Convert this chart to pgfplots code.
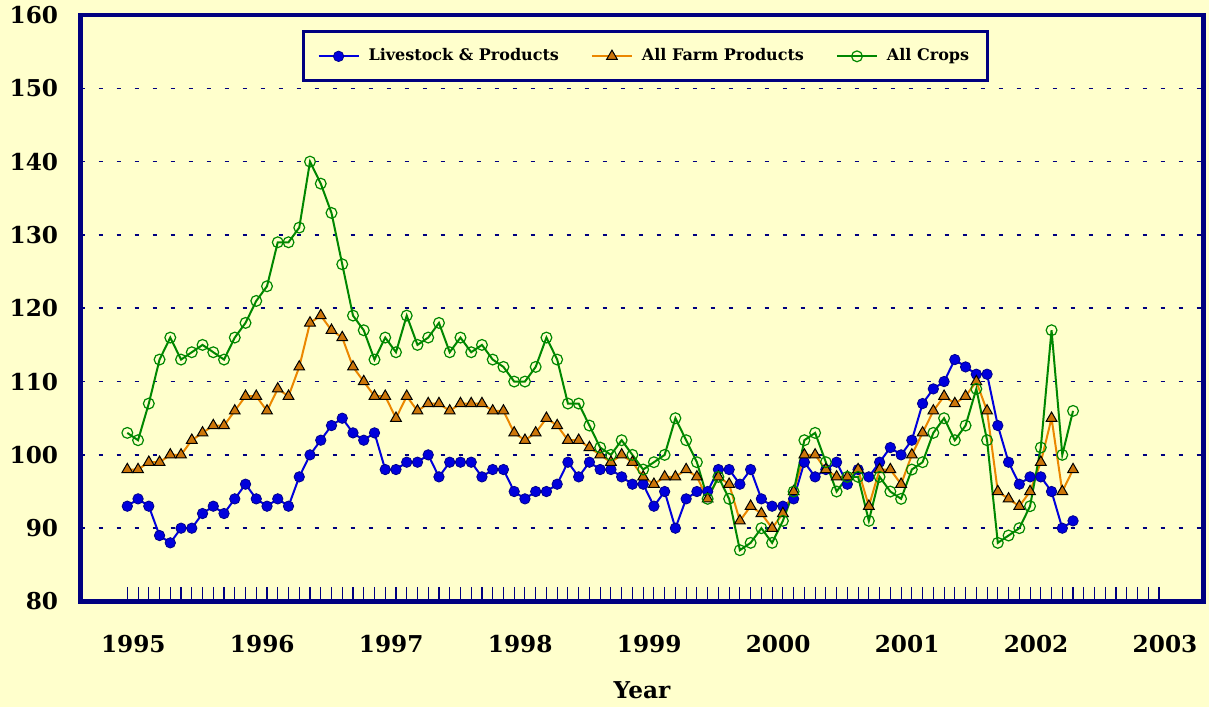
\documentclass[border=0pt]{standalone}
\usepackage{fontspec}
\setmainfont{DejaVu Serif}
\usepackage{pgfplots}
\usepackage{pgfplotstable}
\pgfplotsset{compat=1.18}
\definecolor{bg}{RGB}{255,255,204}
\definecolor{navyb}{RGB}{0,0,128}
\definecolor{lsblue}{RGB}{0,0,220}
\definecolor{lsedge}{RGB}{0,0,140}
\definecolor{farmline}{RGB}{235,135,0}
\definecolor{farmfill}{RGB}{205,118,10}
\definecolor{cropgr}{RGB}{0,135,0}
\pgfplotstableread{
idx live farm crops
0 93 98 103
1 94 98 102
2 93 99 107
3 89 99 113
4 88 100 116
5 90 100 113
6 90 102 114
7 92 103 115
8 93 104 114
9 92 104 113
10 94 106 116
11 96 108 118
12 94 108 121
13 93 106 123
14 94 109 129
15 93 108 129
16 97 112 131
17 100 118 140
18 102 119 137
19 104 117 133
20 105 116 126
21 103 112 119
22 102 110 117
23 103 108 113
24 98 108 116
25 98 105 114
26 99 108 119
27 99 106 115
28 100 107 116
29 97 107 118
30 99 106 114
31 99 107 116
32 99 107 114
33 97 107 115
34 98 106 113
35 98 106 112
36 95 103 110
37 94 102 110
38 95 103 112
39 95 105 116
40 96 104 113
41 99 102 107
42 97 102 107
43 99 101 104
44 98 100 101
45 98 99 100
46 97 100 102
47 96 99 100
48 96 97 98
49 93 96 99
50 95 97 100
51 90 97 105
52 94 98 102
53 95 97 99
54 95 94 94
55 98 97 97
56 98 96 94
57 96 91 87
58 98 93 88
59 94 92 90
60 93 90 88
61 93 92 91
62 94 95 95
63 99 100 102
64 97 100 103
65 98 98 99
66 99 97 95
67 96 97 97
68 98 98 97
69 97 93 91
70 99 98 97
71 101 98 95
72 100 96 94
73 102 100 98
74 107 103 99
75 109 106 103
76 110 108 105
77 113 107 102
78 112 108 104
79 111 110 109
80 111 106 102
81 104 95 88
82 99 94 89
83 96 93 90
84 97 95 93
85 97 99 101
86 95 105 117
87 90 95 100
88 91 98 106
}\datatable
\begin{document}
\begin{tikzpicture}[x=1pt,y=1pt]
\fill[bg] (0,0) rectangle (604.5,353.5);
\path[use as bounding box] (0,0) rectangle (604.5,353.5);
\begin{axis}[
  at={(40.25pt,52.75pt)}, anchor=south west,
  width=561.5pt, height=293.25pt, scale only axis,
  xmin=-4.355, xmax=100.14, ymin=80, ymax=160,
  axis background/.style={fill=bg},
  axis line style={navyb, line width=2.4pt},
  /pgf/number format/assume math mode=true,
  ytick={80,90,...,160},
  ytick style={draw=none},
  yticklabel style={font=\bfseries\fontsize{11.6}{13}\selectfont, anchor=east, inner sep=0pt, xshift=-11pt},
  xtick={0,12,...,96},
  xticklabels={1995,1996,1997,1998,1999,2000,2001,2002,2003},
  minor xtick={1,...,95},
  xtick pos=left,
  tick align=inside,
  major tick length=7.5pt, minor tick length=7.5pt,
  xtick style={navyb, line width=0.55pt},
  minor x tick style={navyb, line width=0.55pt},
  xticklabel style={font=\bfseries\fontsize{11.6}{13}\selectfont, anchor=base, inner sep=0pt, xshift=3pt, yshift=-25.5pt},
  extra y ticks={90,100,...,150},
  extra y tick labels={},
  extra y tick style={ymajorgrids=true, major tick length=0pt,
     major grid style={navyb, line width=0.8pt, dash pattern=on 2pt off 7pt}},
  xlabel={Year},
  xlabel style={font=\bfseries\fontsize{11.6}{13}\selectfont, at={(axis description cs:0.5,0)}, anchor=base, inner sep=0pt, yshift=-48.5pt},
  legend columns=3,
  legend style={at={(0.503,0.974)}, anchor=north, draw=navyb, line width=1.5pt, fill=bg,
     font=\bfseries\fontsize{8}{10}\selectfont, inner xsep=7pt, inner ysep=6.5pt,
     /tikz/every odd column/.append style={column sep=2.5pt},
     /tikz/every even column/.append style={column sep=14pt}},
  legend cell align=left,
  legend image code/.code={\draw[mark repeat=2,mark phase=2,#1] plot coordinates {(0pt,0pt) (10pt,0pt) (20pt,0pt)};},
  clip=false,
]
\addplot[lsblue, line width=1pt, mark=*, mark size=2.6pt, mark options={fill=lsblue, draw=lsedge, line width=0.4pt}] table[x=idx, y=live] {\datatable};
\addlegendentry{Livestock \& Products}
\addplot[farmline, line width=1pt, mark=triangle*, mark size=3.1pt, mark options={fill=farmfill, draw=black, line width=0.5pt}] table[x=idx, y=farm] {\datatable};
\addlegendentry{All Farm Products}
\addplot[cropgr, line width=1pt, mark=o, mark size=2.7pt, mark options={draw=cropgr, line width=0.6pt}] table[x=idx, y=crops] {\datatable};
\addlegendentry{All Crops}
\end{axis}
\end{tikzpicture}
\end{document}
